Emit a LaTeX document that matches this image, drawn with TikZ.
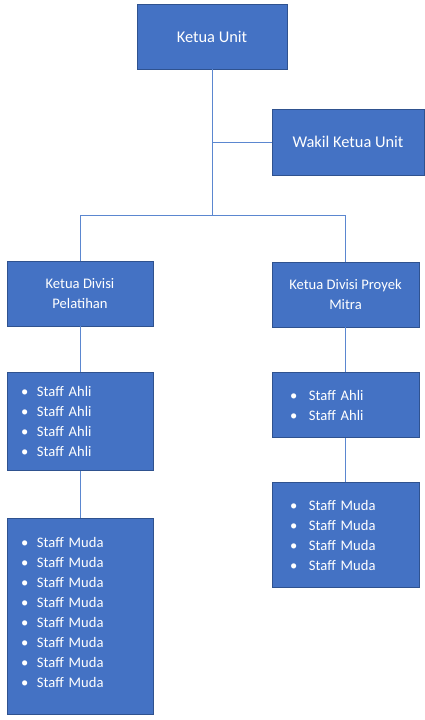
\documentclass[tikz,border=0pt]{standalone}
\usepackage{fontspec}
\setmainfont{Carlito}
\usetikzlibrary{positioning}
\definecolor{boxblue}{HTML}{4472C4}
\definecolor{boxedge}{HTML}{2F528F}
\definecolor{linkblue}{HTML}{5B87D0}
\newcommand{\staff}[2][16pt]{\makebox[#1][l]{\textbullet}#2}
\tikzstyle{unit} = [rectangle, draw=boxedge, fill=boxblue, text=white, align=center, font=\fontsize{14.6}{20}\selectfont, line width=0.8pt, inner sep=0pt, minimum height=65pt]
\tikzstyle{topunit} = [unit, font=\fontsize{16.4}{20}\selectfont]
\tikzstyle{stafflist} = [unit, align=left, inner xsep=14pt, text width=118pt]
\tikzstyle{line} = [draw=linkblue, line width=0.8pt]

\begin{document}
\begin{tikzpicture}
\useasboundingbox[fill=white] (0,0) rectangle (425pt,-720pt);
\node [topunit, minimum width=150pt] (ketua) at (212pt,-36.5pt) {Ketua Unit};
\node [topunit, minimum width=152pt, minimum height=66pt] (wakil) at (348pt,-142pt) {Wakil Ketua Unit};
\node [unit, minimum width=146pt] (pel) at (80pt,-293.5pt) {Ketua Divisi\\Pelatihan};
\node [unit, minimum width=147pt] (mitra) at (345.5pt,-294.5pt) {Ketua Divisi Proyek\\Mitra};
\node [stafflist, minimum height=98pt, below = 46pt of pel] (ahliL) {\staff{Staff Ahli}\\\staff{Staff Ahli}\\\staff{Staff Ahli}\\\staff{Staff Ahli}};
\node [stafflist, minimum height=196pt, below = 47pt of ahliL] (mudaL) {\staff{Staff Muda}\\\staff{Staff Muda}\\\staff{Staff Muda}\\\staff{Staff Muda}\\\staff{Staff Muda}\\\staff{Staff Muda}\\\staff{Staff Muda}\\\staff{Staff Muda}\\[-12pt]\mbox{}};
\node [stafflist, inner xsep=18pt, text width=111pt, below = 45pt of mitra] (ahliR) {\staff[19pt]{Staff Ahli}\\\staff[19pt]{Staff Ahli}};
\node [stafflist, inner xsep=18pt, text width=111pt, minimum height=105pt, below = 44pt of ahliR] (mudaR) {\staff[19pt]{Staff Muda}\\\staff[19pt]{Staff Muda}\\\staff[19pt]{Staff Muda}\\\staff[19pt]{Staff Muda}};
\coordinate [below = 146pt of ketua.south] (split);
\path[line] (ketua.south) -- (split);
\path[line] (wakil.west) -- (wakil.west -| ketua.south);
\path[line] (pel.north) |- (split) -| (mitra.north);
\path[line] (pel) -- (ahliL);
\path[line] (ahliL) -- (mudaL);
\path[line] (mitra) -- (ahliR);
\path[line] (ahliR) -- (mudaR);
\end{tikzpicture}
\end{document}
